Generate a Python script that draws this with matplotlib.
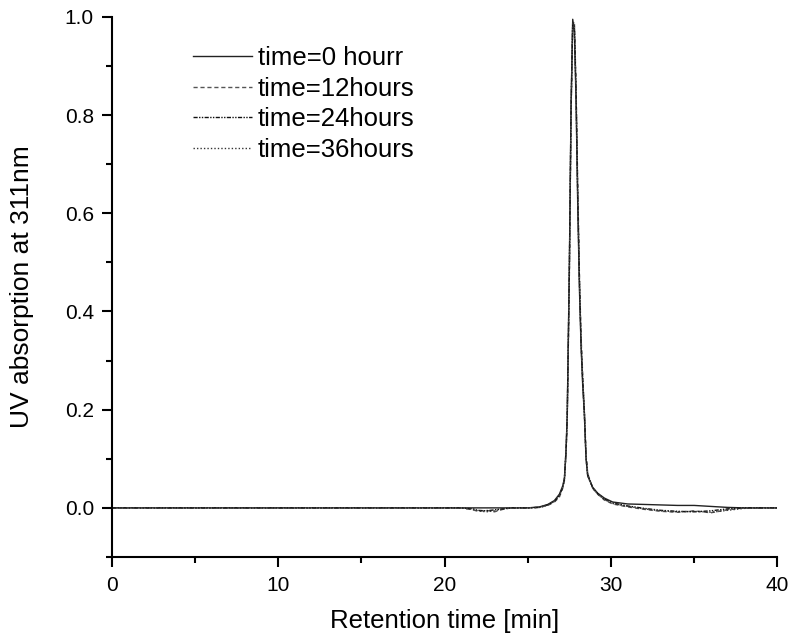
import matplotlib
matplotlib.use("Agg")
import matplotlib.pyplot as plt
from matplotlib.ticker import MultipleLocator, FormatStrFormatter

plt.rcParams['font.family'] = ['Liberation Sans', 'DejaVu Sans']

time_min = [0, 5, 10, 15, 20, 21, 21.7, 22, 22.5, 23, 23.5, 24, 25, 25.7, 26.2, 26.6,
            26.9, 27.1, 27.2, 27.3, 27.37, 27.45, 27.5, 27.6, 27.7, 27.8, 27.9, 28.0,
            28.1, 28.2, 28.3, 28.4, 28.5, 28.6, 28.9, 29.2, 29.6, 30.1, 31, 32, 33,
            34, 35, 36, 37, 38, 40]

abs_0h = [0, 0, 0, 0, 0, 0, 0, 0, 0, 0, 0, 0, 0, 0.002, 0.007, 0.015,
          0.028, 0.045, 0.06, 0.12, 0.19, 0.38, 0.5, 0.82, 0.995, 0.97, 0.83, 0.62,
          0.45, 0.33, 0.25, 0.19, 0.10, 0.065, 0.042, 0.03, 0.02, 0.012, 0.008, 0.007, 0.006,
          0.005, 0.005, 0.003, 0.001, 0, 0]

abs_12h = [0, 0, 0, 0, 0, 0, -0.004, -0.007, -0.005, -0.008, -0.003, 0, 0, 0.001, 0.005, 0.012,
           0.022, 0.04, 0.055, 0.11, 0.18, 0.36, 0.48, 0.80, 0.985, 0.99, 0.86, 0.66,
           0.48, 0.35, 0.27, 0.20, 0.11, 0.07, 0.04, 0.028, 0.016, 0.008, 0.002, -0.003, -0.007,
           -0.009, -0.006, -0.010, -0.004, 0, 0]

abs_24h = [0, 0, 0, 0, 0, 0, -0.002, -0.005, -0.006, -0.004, -0.002, 0, 0, 0.001, 0.006, 0.013,
           0.025, 0.042, 0.058, 0.115, 0.185, 0.37, 0.49, 0.81, 0.99, 0.98, 0.85, 0.64,
           0.47, 0.34, 0.26, 0.195, 0.105, 0.068, 0.041, 0.029, 0.018, 0.01, 0.004, -0.001, -0.005,
           -0.007, -0.008, -0.006, -0.002, 0, 0]

abs_36h = [0, 0, 0, 0, 0, 0, -0.003, -0.006, -0.008, -0.006, -0.002, 0, 0, 0.001, 0.006, 0.014,
           0.026, 0.043, 0.059, 0.118, 0.187, 0.375, 0.495, 0.815, 0.99, 0.975, 0.84, 0.63,
           0.46, 0.335, 0.255, 0.19, 0.10, 0.066, 0.04, 0.028, 0.017, 0.009, 0.003, -0.002, -0.006,
           -0.008, -0.007, -0.009, -0.005, -0.001, 0]

labels = ['time=0 hourr', 'time=12hours', 'time=24hours', 'time=36hours']

fig = plt.figure(figsize=(7.94, 6.37), dpi=100)
ax = fig.add_axes([0.141, 0.1256, 0.838, 0.848])

ax.plot(time_min, abs_0h, color='#222222', lw=1.0, ls='-', label=labels[0])
ax.plot(time_min, abs_12h, color='#555555', lw=1.0, ls=(0, (3, 2)), label=labels[1])
ax.plot(time_min, abs_24h, color='#111111', lw=1.0, ls=(0, (3, 1, 1, 1, 1, 1)), label=labels[2])
ax.plot(time_min, abs_36h, color='#333333', lw=1.0, ls=(0, (1, 1.5)), label=labels[3])

ax.set_xlim(0, 40)
ax.set_ylim(-0.1, 1.0)
ax.xaxis.set_major_locator(MultipleLocator(10))
ax.xaxis.set_minor_locator(MultipleLocator(5))
ax.yaxis.set_major_locator(MultipleLocator(0.2))
ax.yaxis.set_minor_locator(MultipleLocator(0.1))
ax.yaxis.set_major_formatter(FormatStrFormatter('%.1f'))

for s in ['top', 'right']:
    ax.spines[s].set_visible(False)
for s in ['left', 'bottom']:
    ax.spines[s].set_linewidth(1.5)

ax.tick_params(which='major', direction='out', length=7, width=1.5, labelsize=15)
ax.tick_params(axis='y', which='major', pad=6)
ax.tick_params(axis='x', which='major', pad=7)
ax.tick_params(which='minor', direction='out', length=4, width=1.5)

ax.set_xlabel('Retention time [min]', fontsize=18.5, labelpad=10)
ax.set_ylabel('UV absorption at 311nm', fontsize=19, labelpad=22)

ax.legend(loc='upper left', bbox_to_anchor=(0.106, 0.965), frameon=False, fontsize=18.5,
          handlelength=2.3, handletextpad=0.23, labelspacing=0.26, borderaxespad=0)

fig.savefig('out.png', dpi=100)
